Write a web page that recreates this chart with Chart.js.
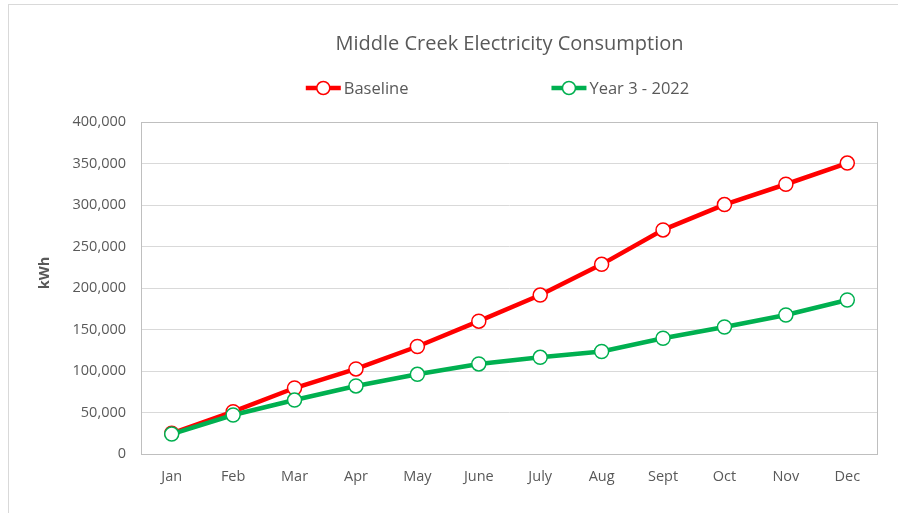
<!DOCTYPE html>
<html>
<head>
<meta charset="utf-8">
<title>Middle Creek Electricity Consumption</title>
<script src="https://cdn.jsdelivr.net/npm/chart.js@4.4.1/dist/chart.umd.min.js"></script>
<style>
  html, body { margin: 0; padding: 0; background: #fff; overflow: hidden; }
  #wrap { position: relative; width: 898px; height: 513px; }
  #wrap canvas { position: absolute; left: 0; top: 0; }
  /* outer chart border, only its left and top edges fall inside the window */
  #frame { position: absolute; left: 8px; top: 4px; width: 1000px; height: 600px; border: 1px solid #d9d9d9; pointer-events: none; }
</style>
</head>
<body>
<div id="wrap">
  <canvas id="chart" width="898" height="513"></canvas>
  <div id="frame"></div>
</div>
<script>
// Data
const months = ['Jan', 'Feb', 'Mar', 'Apr', 'May', 'June', 'July', 'Aug', 'Sept', 'Oct', 'Nov', 'Dec'];
const baseline = [25000, 51000, 79500, 102500, 129500, 160000, 191500, 228500, 270000, 300500, 325000, 350500];
const year3 = [24000, 47000, 65000, 82000, 96000, 108500, 116500, 123500, 139500, 153000, 167500, 185500];
const yMin = 0;
const yMax = 400000;
const yStep = 50000;
const yTitle = 'kWh';

const RED = '#ff0000';
const GREEN = '#00b050';
const TEXT = '#595959';

Chart.defaults.font.family = '"Open Sans", "DejaVu Sans", sans-serif';
Chart.defaults.color = TEXT;

// Plot frame + rotated axis title
const framePlugin = {
    id: 'plotFrame',
    beforeDatasetsDraw(chart) {
        const { ctx, chartArea: a } = chart;
        ctx.save();
        ctx.strokeStyle = '#bfbfbf';
        ctx.lineWidth = 1;
        ctx.strokeRect(Math.round(a.left) + 0.5, Math.round(a.top) + 0.5,
            Math.round(a.right - a.left) - 1, Math.round(a.bottom - a.top));
        ctx.restore();
    },
    afterDraw(chart) {
        const ctx = chart.ctx;
        ctx.save();
        ctx.translate(45, 273);
        ctx.rotate(-Math.PI / 2);
        ctx.font = 'bold 14.5px "Open Sans", sans-serif';
        ctx.fillStyle = TEXT;
        ctx.textAlign = 'center';
        ctx.textBaseline = 'middle';
        ctx.fillText(yTitle, 0, 0);
        ctx.restore();
    }
};

// Excel style legend: line with a hollow marker, wide gap between entries
const legendPlugin = {
    id: 'lineLegend',
    afterDraw(chart) {
        const { ctx, chartArea: a } = chart;
        ctx.save();
        ctx.font = '16.5px "Open Sans", sans-serif';
        const items = chart.data.datasets.map(ds => ({ ds, w: 38 + ctx.measureText(ds.label).width }));
        const gap = 143;
        const total = items.reduce((s, it) => s + it.w, 0) + gap * (items.length - 1);
        let x = (a.left + a.right) / 2 - 12 - total / 2;
        const y = 88;
        items.forEach(it => {
            const c = it.ds.borderColor;
            ctx.strokeStyle = c;
            ctx.lineWidth = 4.5;
            ctx.beginPath();
            ctx.moveTo(x, y);
            ctx.lineTo(x + 35, y);
            ctx.stroke();
            ctx.beginPath();
            ctx.arc(x + 17.5, y, 6.5, 0, Math.PI * 2);
            ctx.fillStyle = '#fff';
            ctx.fill();
            ctx.lineWidth = 1.5;
            ctx.stroke();
            ctx.fillStyle = TEXT;
            ctx.textAlign = 'left';
            ctx.textBaseline = 'middle';
            ctx.fillText(it.ds.label, x + 38, y + 1);
            x += it.w + gap;
        });
        ctx.restore();
    }
};

const ctx = document.getElementById('chart').getContext('2d');

new Chart(ctx, {
    type: 'line',
    data: {
        labels: months,
        datasets: [
            {
                label: 'Baseline',
                data: baseline,
                borderColor: RED,
                borderWidth: 4.5,
                pointRadius: 7,
                pointBorderWidth: 1.5,
                pointBackgroundColor: '#fff',
                pointBorderColor: RED,
                tension: 0,
                order: 1
            },
            {
                label: 'Year 3 - 2022',
                data: year3,
                borderColor: GREEN,
                borderWidth: 4.5,
                pointRadius: 7,
                pointBorderWidth: 1.5,
                pointBackgroundColor: '#fff',
                pointBorderColor: GREEN,
                tension: 0,
                order: 0
            }
        ]
    },
    options: {
        responsive: false,
        animation: false,
        layout: { padding: { left: 33, right: 20, top: 0, bottom: 0 } },
        plugins: {
            legend: { display: false },
            tooltip: { enabled: false },
            title: {
                display: true,
                text: 'Middle Creek Electricity Consumption',
                fullSize: false,
                color: TEXT,
                font: { size: 20, weight: 'normal' },
                padding: { top: 32, bottom: 66 }
            }
        },
        scales: {
            x: {
                offset: true,
                grid: { display: false },
                border: { display: false },
                ticks: { color: TEXT, font: { size: 14.5 }, padding: 6, maxRotation: 0 },
                afterFit(scale) { scale.height = 59; }
            },
            y: {
                min: yMin,
                max: yMax,
                grid: { color: '#d9d9d9', lineWidth: 1, drawTicks: false },
                border: { display: false },
                ticks: {
                    stepSize: yStep,
                    color: TEXT,
                    font: { size: 14.5 },
                    padding: 15,
                    callback: v => v.toLocaleString('en-US')
                },
                afterFit(scale) { scale.width = 108; }
            }
        }
    },
    plugins: [framePlugin, legendPlugin]
});
</script>
</body>
</html>
